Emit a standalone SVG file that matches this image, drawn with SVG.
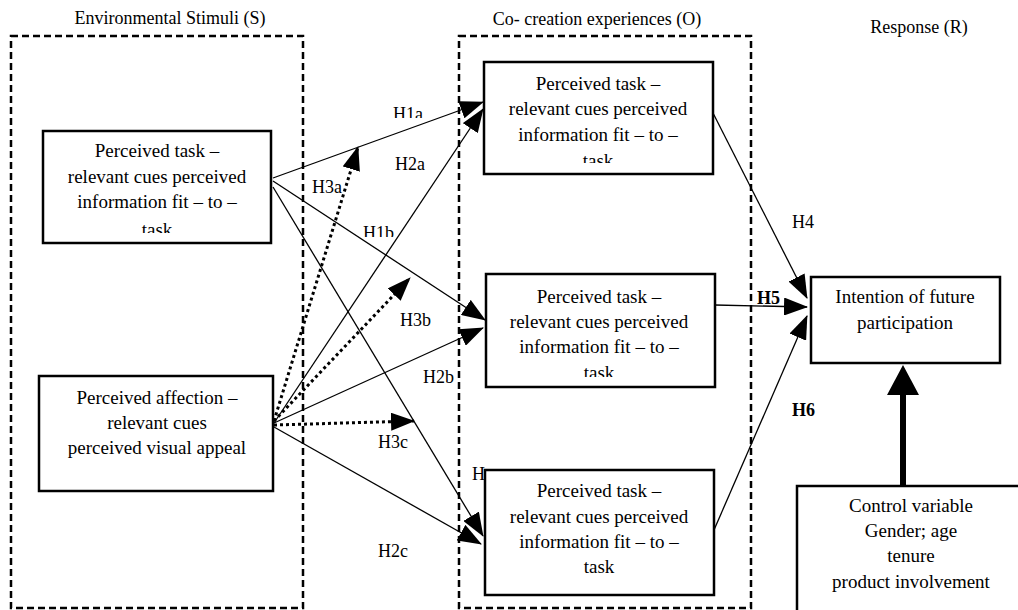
<svg xmlns="http://www.w3.org/2000/svg" width="1018" height="610" viewBox="0 0 1018 610">
<style>
text{font-family:"Liberation Serif","Times New Roman",serif;fill:#000}
.t{font-size:19px;text-anchor:middle}
.h{font-size:18px;text-anchor:middle}
.lb{font-size:18px}
.b{font-weight:bold}
.grp{fill:none;stroke:#000;stroke-width:2.5;stroke-dasharray:7 4}
.box{fill:#fff;stroke:#000;stroke-width:2.5}
.c{fill:none;stroke:#000;stroke-width:1.3;marker-end:url(#ah)}
.d{fill:none;stroke:#000;stroke-width:3;stroke-dasharray:3 3;marker-end:url(#ah)}
</style>
<defs>
<marker id="ah" markerUnits="userSpaceOnUse" markerWidth="24" markerHeight="18" refX="23" refY="9" orient="auto">
<path d="M0,0 L24,9 L0,18 z" fill="#000"/>
</marker>
<clipPath id="cS1"><rect x="43" y="131" width="228" height="102"/></clipPath>
<clipPath id="cO1"><rect x="484" y="62" width="229" height="101"/></clipPath>
<clipPath id="cO2"><rect x="486" y="274" width="229" height="103"/></clipPath>
<clipPath id="cH1a"><rect x="380" y="95" width="60" height="23"/></clipPath>
<clipPath id="cH1b"><rect x="350" y="215" width="60" height="22"/></clipPath>
<clipPath id="cH1c"><rect x="465" y="455" width="20" height="35"/></clipPath>
</defs>

<g id="groups">
<rect class="grp" x="11" y="36" width="292" height="572"/>
<rect class="grp" x="459" y="36" width="292" height="572"/>
<text class="h" x="170" y="24">Environmental Stimuli (S)</text>
<text class="h" x="597" y="25">Co- creation experiences (O)</text>
<text class="h" x="919" y="33">Response (R)</text>
</g>

<g id="connectors">
<path class="c" d="M273,178 L483,102"/>
<path class="c" d="M273,181 L485,320"/>
<path class="c" d="M273,187 L483,536"/>
<path class="c" d="M274,423 L483,109"/>
<path class="c" d="M274,423 L483,328"/>
<path class="c" d="M274,427 L481,544"/>
<path class="d" d="M274,421 L358,147"/>
<path class="d" d="M274,421 L410,278"/>
<path class="d" d="M274,425 L414,421"/>
<path class="c" d="M713,113 L807,298"/>
<path class="c" d="M715,305 L807,307"/>
<path class="c" d="M714,530 L807,316"/>
<line x1="903" y1="486" x2="903" y2="393" stroke="#000" stroke-width="6"/>
<polygon points="903,365 887,395 919,395" fill="#000"/>
</g>

<g id="labels">
<text class="lb" x="393" y="120" clip-path="url(#cH1a)">H1a</text>
<text class="lb" x="395" y="170">H2a</text>
<text class="lb" x="312" y="193">H3a</text>
<text class="lb" x="363" y="239" clip-path="url(#cH1b)">H1b</text>
<text class="lb" x="400" y="326">H3b</text>
<text class="lb" x="423" y="383">H2b</text>
<text class="lb" x="378" y="448">H3c</text>
<text class="lb" x="378" y="557">H2c</text>
<text class="lb" x="472" y="480" clip-path="url(#cH1c)">H1</text>
<text class="lb" x="792" y="228">H4</text>
<text class="lb b" x="757" y="304">H5</text>
<text class="lb b" x="792" y="416">H6</text>
</g>

<g id="s1">
<rect class="box" x="43" y="131" width="228" height="112"/>
<g clip-path="url(#cS1)">
<text class="t" x="157" y="157">Perceived task –</text>
<text class="t" x="157" y="183">relevant cues perceived</text>
<text class="t" x="157" y="208">information fit – to –</text>
<text class="t" x="157" y="236">task</text>
</g>
</g>

<g id="s2">
<rect class="box" x="39" y="376" width="234" height="115"/>
<text class="t" x="157" y="404">Perceived affection –</text>
<text class="t" x="157" y="429">relevant cues</text>
<text class="t" x="157" y="454">perceived visual appeal</text>
</g>

<g id="o1">
<rect class="box" x="484" y="62" width="229" height="112"/>
<g clip-path="url(#cO1)">
<text class="t" x="598" y="90">Perceived task –</text>
<text class="t" x="598" y="115">relevant cues perceived</text>
<text class="t" x="598" y="141">information fit – to –</text>
<text class="t" x="598" y="167">task</text>
</g>
</g>

<g id="o2">
<rect class="box" x="486" y="274" width="229" height="113"/>
<g clip-path="url(#cO2)">
<text class="t" x="599" y="303">Perceived task –</text>
<text class="t" x="599" y="328">relevant cues perceived</text>
<text class="t" x="599" y="353">information fit – to –</text>
<text class="t" x="599" y="379">task</text>
</g>
</g>

<g id="o3">
<rect class="box" x="485" y="470" width="229" height="125"/>
<text class="t" x="599" y="497">Perceived task –</text>
<text class="t" x="599" y="523">relevant cues perceived</text>
<text class="t" x="599" y="548">information fit – to –</text>
<text class="t" x="599" y="573">task</text>
</g>

<g id="r">
<rect class="box" x="811" y="277" width="189" height="86"/>
<text class="t" x="905" y="303">Intention of future</text>
<text class="t" x="905" y="329">participation</text>
</g>

<g id="control">
<rect class="box" x="797" y="486" width="240" height="140"/>
<text class="t" x="911" y="512">Control variable</text>
<text class="t" x="911" y="537">Gender; age</text>
<text class="t" x="911" y="562">tenure</text>
<text class="t" x="911" y="588">product involvement</text>
</g>
</svg>
